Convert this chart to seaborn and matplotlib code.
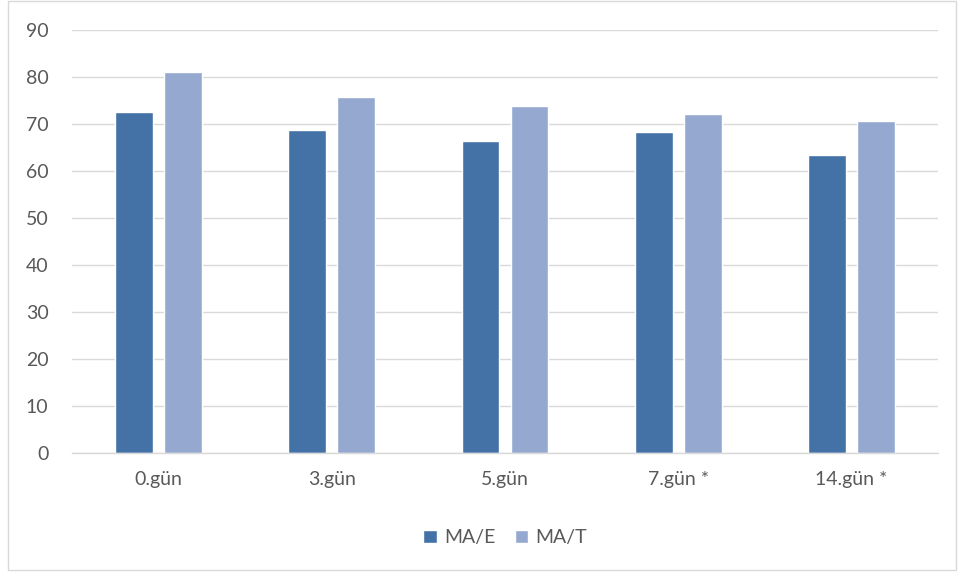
import matplotlib
matplotlib.use("Agg")
import matplotlib.pyplot as plt
from matplotlib.patches import Rectangle
import seaborn as sns
import pandas as pd

days = ["0.gün", "3.gün", "5.gün", "7.gün *", "14.gün *"]
ma_e = [72.7, 68.7, 66.4, 68.4, 63.5]
ma_t = [81.2, 75.9, 73.9, 72.2, 70.7]
series_names = ["MA/E", "MA/T"]
palette = ["#4472A6", "#95A9D0"]

df = pd.DataFrame({
    "gün": days * 2,
    "değer": ma_e + ma_t,
    "seri": [series_names[0]] * len(days) + [series_names[1]] * len(days),
})

sns.set_theme(style="white")
plt.rcParams["font.family"] = ["Lato", "DejaVu Sans"]
text_color = "#595959"
grid_color = "#D9D9D9"

fig = plt.figure(figsize=(9.64, 5.78), dpi=100)
ax = fig.add_axes([0.0747, 0.2157, 0.8983, 0.7319])

sns.barplot(data=df, x="gün", y="değer", hue="seri", palette=palette,
            width=0.566, gap=0.226, saturation=1, ax=ax, legend=True)

ax.set_ylim(0, 90)
ax.set_yticks(range(0, 91, 10))
ax.set_xlim(-0.5, len(days) - 0.5)
ax.set_xlabel("")
ax.set_ylabel("")
ax.yaxis.grid(True, color=grid_color, linewidth=1)
ax.set_axisbelow(True)
for side in ["top", "right", "left"]:
    ax.spines[side].set_visible(False)
ax.spines["bottom"].set_color(grid_color)
ax.spines["bottom"].set_linewidth(1)
ax.tick_params(axis="both", length=0, colors=text_color, labelsize=14)
ax.tick_params(axis="y", pad=17)
ax.tick_params(axis="x", pad=13)

leg = ax.legend(loc="center", bbox_to_anchor=(0.5, -0.2), ncol=2, frameon=False,
                fontsize=14, handlelength=0.7, handleheight=0.7,
                handletextpad=0.35, columnspacing=1.0)
for t in leg.get_texts():
    t.set_color(text_color)

# outer chart border
fig.patches.append(Rectangle((0.0083, 0.014), 0.983, 0.984, transform=fig.transFigure,
                             fill=False, edgecolor=grid_color, linewidth=1))

fig.savefig("out.png", dpi=100, facecolor="white")
